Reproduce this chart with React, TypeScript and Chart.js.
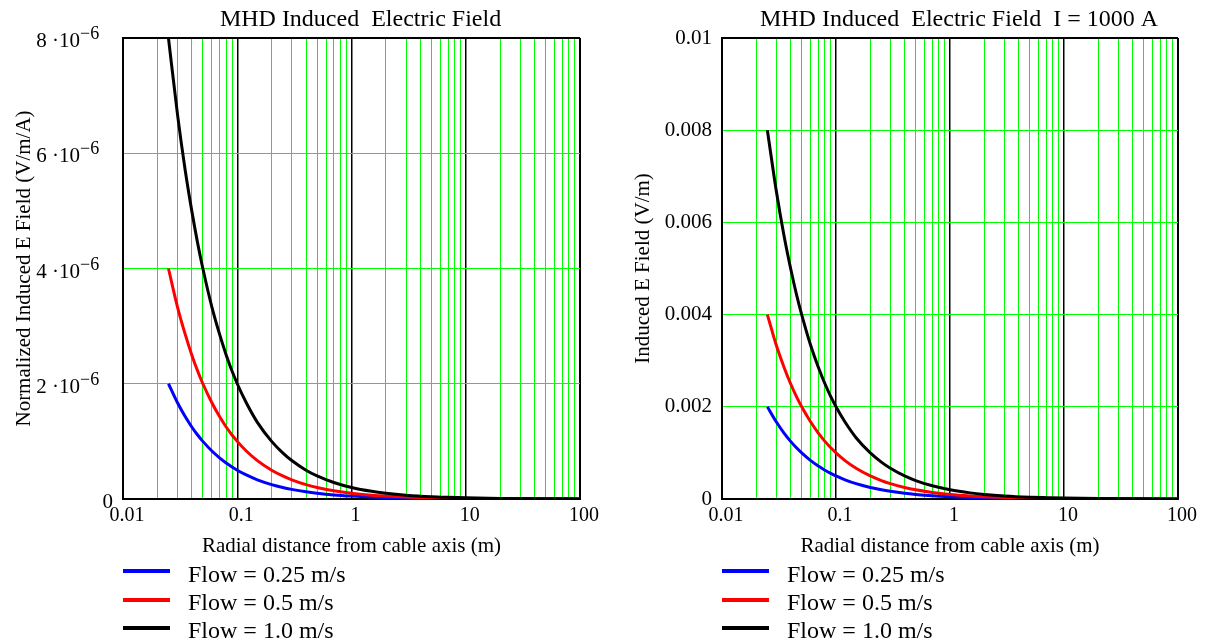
import React, { useEffect, useRef } from 'react';
import { Chart, registerables } from 'chart.js';

Chart.register(...registerables);

// ---------- data ----------
const radius = [0.025, 0.03, 0.035, 0.04, 0.045, 0.05, 0.06, 0.07, 0.08, 0.09, 0.1, 0.12, 0.15, 0.2, 0.25, 0.3, 0.4, 0.5, 0.7, 1, 1.5, 2, 3, 5, 7, 10, 20, 50, 100];

// Normalized induced E field (V/m/A)
const normFlow025 = [2.0e-6, 1.67e-6, 1.43e-6, 1.25e-6, 1.11e-6, 1.0e-6, 8.33e-7, 7.14e-7, 6.25e-7, 5.56e-7, 5.0e-7, 4.17e-7, 3.33e-7, 2.5e-7, 2.0e-7, 1.67e-7, 1.25e-7, 1.0e-7, 7.1e-8, 5.0e-8, 3.3e-8, 2.5e-8, 1.7e-8, 1.0e-8, 7.0e-9, 5.0e-9, 2.5e-9, 1.0e-9, 5.0e-10];
const normFlow05 = [4.0e-6, 3.33e-6, 2.86e-6, 2.5e-6, 2.22e-6, 2.0e-6, 1.67e-6, 1.43e-6, 1.25e-6, 1.11e-6, 1.0e-6, 8.33e-7, 6.67e-7, 5.0e-7, 4.0e-7, 3.33e-7, 2.5e-7, 2.0e-7, 1.43e-7, 1.0e-7, 6.7e-8, 5.0e-8, 3.3e-8, 2.0e-8, 1.4e-8, 1.0e-8, 5.0e-9, 2.0e-9, 1.0e-9];
const normFlow10 = [8.0e-6, 6.67e-6, 5.71e-6, 5.0e-6, 4.44e-6, 4.0e-6, 3.33e-6, 2.86e-6, 2.5e-6, 2.22e-6, 2.0e-6, 1.67e-6, 1.33e-6, 1.0e-6, 8.0e-7, 6.67e-7, 5.0e-7, 4.0e-7, 2.86e-7, 2.0e-7, 1.33e-7, 1.0e-7, 6.7e-8, 4.0e-8, 2.9e-8, 2.0e-8, 1.0e-8, 4.0e-9, 2.0e-9];

// Induced E field (V/m) at I = 1000 A
const fieldFlow025 = [2.0e-3, 1.67e-3, 1.43e-3, 1.25e-3, 1.11e-3, 1.0e-3, 8.33e-4, 7.14e-4, 6.25e-4, 5.56e-4, 5.0e-4, 4.17e-4, 3.33e-4, 2.5e-4, 2.0e-4, 1.67e-4, 1.25e-4, 1.0e-4, 7.1e-5, 5.0e-5, 3.3e-5, 2.5e-5, 1.7e-5, 1.0e-5, 7.0e-6, 5.0e-6, 2.5e-6, 1.0e-6, 5.0e-7];
const fieldFlow05 = [4.0e-3, 3.33e-3, 2.86e-3, 2.5e-3, 2.22e-3, 2.0e-3, 1.67e-3, 1.43e-3, 1.25e-3, 1.11e-3, 1.0e-3, 8.33e-4, 6.67e-4, 5.0e-4, 4.0e-4, 3.33e-4, 2.5e-4, 2.0e-4, 1.43e-4, 1.0e-4, 6.7e-5, 5.0e-5, 3.3e-5, 2.0e-5, 1.4e-5, 1.0e-5, 5.0e-6, 2.0e-6, 1.0e-6];
const fieldFlow10 = [8.0e-3, 6.67e-3, 5.71e-3, 5.0e-3, 4.44e-3, 4.0e-3, 3.33e-3, 2.86e-3, 2.5e-3, 2.22e-3, 2.0e-3, 1.67e-3, 1.33e-3, 1.0e-3, 8.0e-4, 6.67e-4, 5.0e-4, 4.0e-4, 2.86e-4, 2.0e-4, 1.33e-4, 1.0e-4, 6.7e-5, 4.0e-5, 2.9e-5, 2.0e-5, 1.0e-5, 4.0e-6, 2.0e-6];

const seriesLabels = ['Flow = 0.25 m/s', 'Flow = 0.5 m/s', 'Flow = 1.0 m/s'];
const seriesColors = ['#0000ff', '#ff0000', '#000000'];

const xTickValues = [0.01, 0.1, 1, 10, 100];
const xTickLabels = ['0.01', '0.1', '1', '10', '100'];

const leftYTickValues = [0, 2e-6, 4e-6, 6e-6, 8e-6];
const leftYTickMantissas = ['0', '2', '4', '6', '8'];
const leftYTickExponent = '\u22126';

const rightYTickValues = [0, 0.002, 0.004, 0.006, 0.008, 0.01];
const rightYTickLabels = ['0', '0.002', '0.004', '0.006', '0.008', '0.01'];

const leftTitle = 'MHD Induced  Electric Field';
const rightTitle = 'MHD Induced  Electric Field  I = 1000 A';
const leftYTitle = 'Normalized Induced E Field (V/m/A)';
const rightYTitle = 'Induced E Field (V/m)';
const xTitle = 'Radial distance from cable axis (m)';

// ---------- helpers ----------
const FONT = "'Liberation Serif', 'Times New Roman', Times, serif";
const GREEN = '#00ff00';

const xGridValues: number[] = (() => {
  const out: number[] = [];
  for (let d = 0; d < xTickValues.length - 1; d++) {
    for (let m = 1; m <= 9; m++) out.push(+(xTickValues[d] * m).toPrecision(6));
  }
  out.push(xTickValues[xTickValues.length - 1]);
  return out;
})();

const isDecade = (v: number) => Math.abs(Math.log10(v) - Math.round(Math.log10(v))) < 1e-6;

type PanelProps = {
  left: number;
  width: number;
  yAxisWidth: number;
  rightPad: number;
  title: string;
  yTitle: string;
  yTitlePad: number;
  series: number[][];
  yTicks: number[];
  yLabels: string[];
  superscript: boolean;
};

function Panel(p: PanelProps) {
  const ref = useRef<HTMLCanvasElement | null>(null);

  useEffect(() => {
    if (!ref.current) return;
    const ymax = p.yTicks[p.yTicks.length - 1];

    const textPlugin = {
      id: 'panelText',
      afterDraw(chart: any) {
        const ctx = chart.ctx;
        const ca = chart.chartArea;
        ctx.save();
        ctx.fillStyle = '#000';
        ctx.textBaseline = 'alphabetic';
        ctx.font = `24px ${FONT}`;
        ctx.textAlign = 'center';
        ctx.fillText(p.title, (ca.left + ca.right) / 2 + 9, 26);
        if (p.superscript) {
          const ys = chart.scales.y;
          p.yTicks.forEach((v, i) => {
            const y = ys.getPixelForValue(v);
            const m = leftYTickMantissas[i];
            if (m === '0') {
              ctx.font = `21px ${FONT}`;
              ctx.textAlign = 'right';
              ctx.fillText('0', ca.left - 10, y + 9);
            } else {
              ctx.font = `21px ${FONT}`;
              ctx.textAlign = 'right';
              ctx.fillText(`${m} \u00b710`, ca.left - 43, y + 9);
              ctx.font = `18px ${FONT}`;
              ctx.textAlign = 'left';
              ctx.fillText(leftYTickExponent, ca.left - 43, y + 1);
            }
          });
        }
        ctx.restore();
      },
    };

    const chart = new Chart(ref.current, {
      type: 'line',
      data: {
        datasets: p.series.map((d, i) => ({
          label: seriesLabels[i],
          data: radius.map((r, j) => ({ x: r, y: d[j] })),
          borderColor: seriesColors[i],
          backgroundColor: seriesColors[i],
          borderWidth: 3,
          pointRadius: 0,
          fill: false,
          cubicInterpolationMode: 'monotone',
          order: 2 - i,
        })),
      },
      options: {
        responsive: false,
        animation: false,
        events: [],
        layout: { padding: { left: 0, right: p.rightPad, top: 38, bottom: 85 } },
        plugins: {
          legend: { display: false },
          tooltip: { enabled: false },
          title: { display: false },
        },
        scales: {
          x: {
            type: 'logarithmic',
            min: 0.01,
            max: 100,
            afterBuildTicks: (s: any) => {
              s.ticks = xGridValues.map((v) => ({ value: v }));
            },
            afterFit: (s: any) => {
              s.height = 60;
            },
            ticks: {
              autoSkip: false,
              maxRotation: 0,
              minRotation: 0,
              padding: 5,
              labelOffset: 4,
              color: '#000',
              font: { family: FONT, size: 20 },
              callback: (v: any) => {
                const k = xTickValues.findIndex((t) => Math.abs(t - Number(v)) / t < 1e-6);
                return k >= 0 ? xTickLabels[k] : '';
              },
            },
            grid: {
              drawTicks: false,
              color: (c: any) => {
                const v = c.tick ? c.tick.value : 1.5;
                return isDecade(v) ? '#000' : GREEN;
              },
              lineWidth: (c: any) => {
                const v = c.tick ? c.tick.value : 1.5;
                if (v <= 0.01 || v >= 100) return 2;
                return isDecade(v) ? 1.5 : 1;
              },
            },
            border: { color: '#000', width: 2 },
            title: {
              display: true,
              text: xTitle,
              color: '#000',
              font: { family: FONT, size: 21 },
              padding: { top: 0, bottom: 0 },
            },
          },
          y: {
            type: 'linear',
            min: 0,
            max: ymax,
            afterBuildTicks: (s: any) => {
              s.ticks = p.yTicks.map((v) => ({ value: v }));
            },
            afterFit: (s: any) => {
              s.width = p.yAxisWidth;
            },
            ticks: {
              display: !p.superscript,
              padding: 10,
              color: '#000',
              font: { family: FONT, size: 21 },
              callback: (_v: any, i: number) => p.yLabels[i],
            },
            grid: {
              drawTicks: false,
              color: (c: any) => {
                const v = c.tick ? c.tick.value : 0;
                return v === 0 || v === ymax ? '#000' : GREEN;
              },
              lineWidth: (c: any) => {
                const v = c.tick ? c.tick.value : 0;
                return v === 0 || v === ymax ? 2 : 1;
              },
            },
            border: { color: '#000', width: 2 },
            title: {
              display: true,
              text: p.yTitle,
              color: '#000',
              font: { family: FONT, size: 21 },
              padding: { top: p.yTitlePad, bottom: 0 },
            },
          },
        },
      } as any,
      plugins: [textPlugin],
    } as any);

    return () => chart.destroy();
  }, []);

  const legendRows = [
    { line: 571, base: 582 },
    { line: 600, base: 610 },
    { line: 628, base: 638 },
  ];
  const legLeft = p.left + p.yAxisWidth;

  return (
    <>
      <div style={{ position: 'absolute', left: p.left, top: 0, width: p.width, height: 644 }}>
        <canvas ref={ref} width={p.width} height={644} style={{ display: 'block' }} />
      </div>
      {seriesLabels.map((lab, i) => (
        <React.Fragment key={lab}>
          <div
            style={{
              position: 'absolute',
              left: legLeft,
              top: legendRows[i].line - 2,
              width: 47,
              height: 4,
              background: seriesColors[i],
            }}
          />
          <div
            style={{
              position: 'absolute',
              left: legLeft + 65,
              top: legendRows[i].base - 22,
              fontFamily: FONT,
              fontSize: 24,
              lineHeight: '28px',
              whiteSpace: 'pre',
              color: '#000',
            }}
          >
            {lab}
          </div>
        </React.Fragment>
      ))}
    </>
  );
}

export default function App() {
  return (
    <div
      style={{
        position: 'absolute',
        left: 0,
        top: 0,
        width: 1205,
        height: 644,
        background: '#fff',
        overflow: 'hidden',
      }}
    >
      <Panel
        left={0}
        width={600}
        yAxisWidth={123}
        rightPad={19}
        title={leftTitle}
        yTitle={leftYTitle}
        yTitlePad={12}
        series={[normFlow025, normFlow05, normFlow10]}
        yTicks={leftYTickValues}
        yLabels={leftYTickMantissas}
        superscript={true}
      />
      <Panel
        left={600}
        width={605}
        yAxisWidth={122}
        rightPad={27}
        title={rightTitle}
        yTitle={rightYTitle}
        yTitlePad={31}
        series={[fieldFlow025, fieldFlow05, fieldFlow10]}
        yTicks={rightYTickValues}
        yLabels={rightYTickLabels}
        superscript={false}
      />
    </div>
  );
}
